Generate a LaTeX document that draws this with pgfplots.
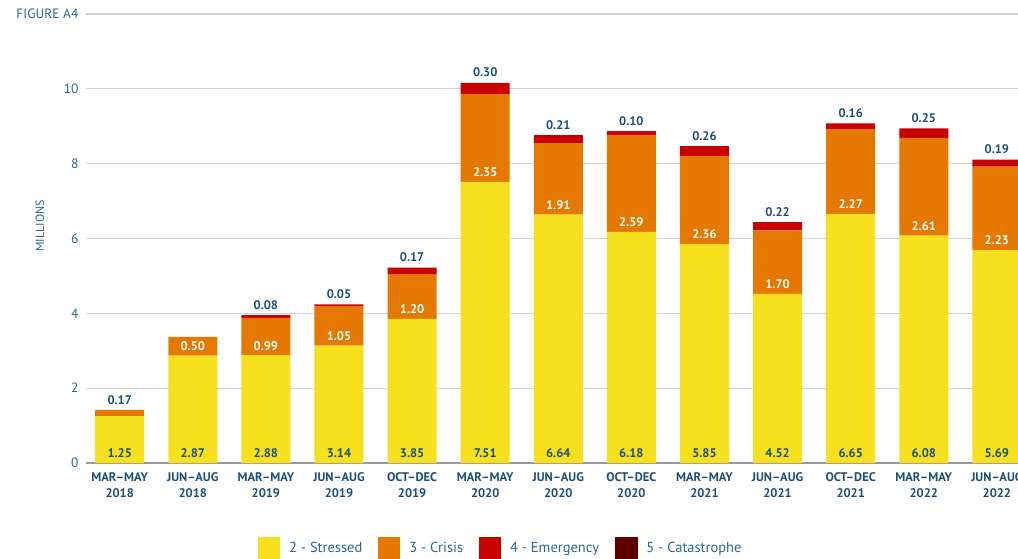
\documentclass[border=0pt]{standalone}
\usepackage{pgfplots}
\pgfplotsset{compat=1.18}
\usepackage{pgfplotstable}
\usepackage{fontspec}
\setmainfont{PT Sans}
\definecolor{cStress}{HTML}{F7E11F}
\definecolor{cCrisis}{HTML}{E47800}
\definecolor{cEmerg}{HTML}{C80000}
\definecolor{cCat}{HTML}{5E0000}
\definecolor{cNavy}{HTML}{1C4F78}
\definecolor{cTick}{HTML}{2A6690}
\definecolor{cGrid}{HTML}{D0D0D0}

\pgfplotstableread{
x s c e
0 1.25 0.17 0.00
1 2.87 0.50 0.00
2 2.88 0.99 0.08
3 3.14 1.05 0.05
4 3.85 1.20 0.17
5 7.51 2.35 0.30
6 6.64 1.91 0.21
7 6.18 2.59 0.10
8 5.85 2.36 0.26
9 4.52 1.70 0.22
10 6.65 2.27 0.16
11 6.08 2.61 0.25
12 5.69 2.23 0.19
}\datatable

\pgfplotsset{
  base/.style={
    scale only axis, width=932pt, height=449pt,
    at={(86pt,95pt)}, anchor=south west,
    xmin=-0.461, xmax=12.289, ymin=0, ymax=12,
    axis line style={draw=none},
    major tick length=0pt,
  },
  lab/.style={only marks, mark=*, mark size=0pt, mark options={draw=none,fill=none},
    nodes near coords, point meta=explicit symbolic,
    every node near coord/.append style={font=\bfseries\fontsize{12.5}{12.5}\selectfont, inner sep=0pt}},
}

\begin{document}
\begin{tikzpicture}
\useasboundingbox (0,0) rectangle (1018pt,558pt);
\clip (0,0) rectangle (1018pt,558pt);
\begin{axis}[base,
  ybar stacked, bar width=49pt,
  ymajorgrids, major grid style={cGrid, line width=1.3pt},
  ytick={0,2,...,12},
  yticklabels={0,2,4,6,8,10,FIGURE A4},
  yticklabel style={font=\fontsize{13.5}{13.5}\selectfont, text=cTick, xshift=-4pt},
  xtick={0,...,12},
  xticklabels={{MAR–MAY\\2018},{JUN–AUG\\2018},{MAR–MAY\\2019},{JUN–AUG\\2019},{OCT–DEC\\2019},{MAR–MAY\\2020},{JUN–AUG\\2020},{OCT–DEC\\2020},{MAR–MAY\\2021},{JUN–AUG\\2021},{OCT–DEC\\2021},{MAR–MAY\\2022},{JUN–AUG\\2022}},
  xticklabel style={align=center, font=\bfseries\fontsize{12.5}{16}\selectfont, text=cNavy, yshift=-6pt},
  legend style={at={(0.1845,-0.1641)}, anchor=north west, legend columns=-1, draw=none, fill=none,
    font=\fontsize{14.5}{14.5}\selectfont, text=cTick, inner sep=0pt,
    /tikz/every odd column/.append style={column sep=7pt},
    /tikz/every even column/.append style={column sep=14pt}},
]
\addplot[fill=cStress, draw=none, legend image code/.code={\fill[cStress] (0pt,-11pt) rectangle (22pt,11pt);}] table[x=x,y=s]{\datatable};
\addlegendentry{2 - Stressed}
\addplot[fill=cCrisis, draw=none, legend image code/.code={\fill[cCrisis] (0pt,-11pt) rectangle (22pt,11pt);}] table[x=x,y=c]{\datatable};
\addlegendentry{3 - Crisis}
\addplot[fill=cEmerg, draw=none, legend image code/.code={\fill[cEmerg] (0pt,-11pt) rectangle (22pt,11pt);}] table[x=x,y=e]{\datatable};
\addlegendentry{4 - Emergency}
\addlegendimage{legend image code/.code={\fill[cCat] (0pt,-11pt) rectangle (22pt,11pt);}}
\addlegendentry{5 - Catastrophe}
\draw[color=black!40, line width=1.3pt] (axis cs:-0.461,0) -- (axis cs:12.289,0);
\end{axis}
\begin{axis}[base, hide axis, clip=false]
\addplot[lab, every node near coord/.append style={text=cNavy}] table[x=x, y expr=0.15, meta=s]{\datatable};
\addplot[lab, restrict x to domain=1:12, every node near coord/.append style={text=white}] table[x=x, y expr=\thisrow{s}+0.13, meta=c]{\datatable};
\addplot[lab, restrict x to domain=-0.5:0.5, every node near coord/.append style={text=cNavy}] table[x=x, y expr=\thisrow{s}+\thisrow{c}+0.14, meta=c]{\datatable};
\addplot[lab, restrict x to domain=2:12, every node near coord/.append style={text=cNavy}] table[x=x, y expr=\thisrow{s}+\thisrow{c}+\thisrow{e}+0.15, meta=e]{\datatable};
\end{axis}
\node[rotate=90, font=\fontsize{12}{12}\selectfont, text=cTick] at (40pt,332pt) {MILLIONS};
\end{tikzpicture}
\end{document}
